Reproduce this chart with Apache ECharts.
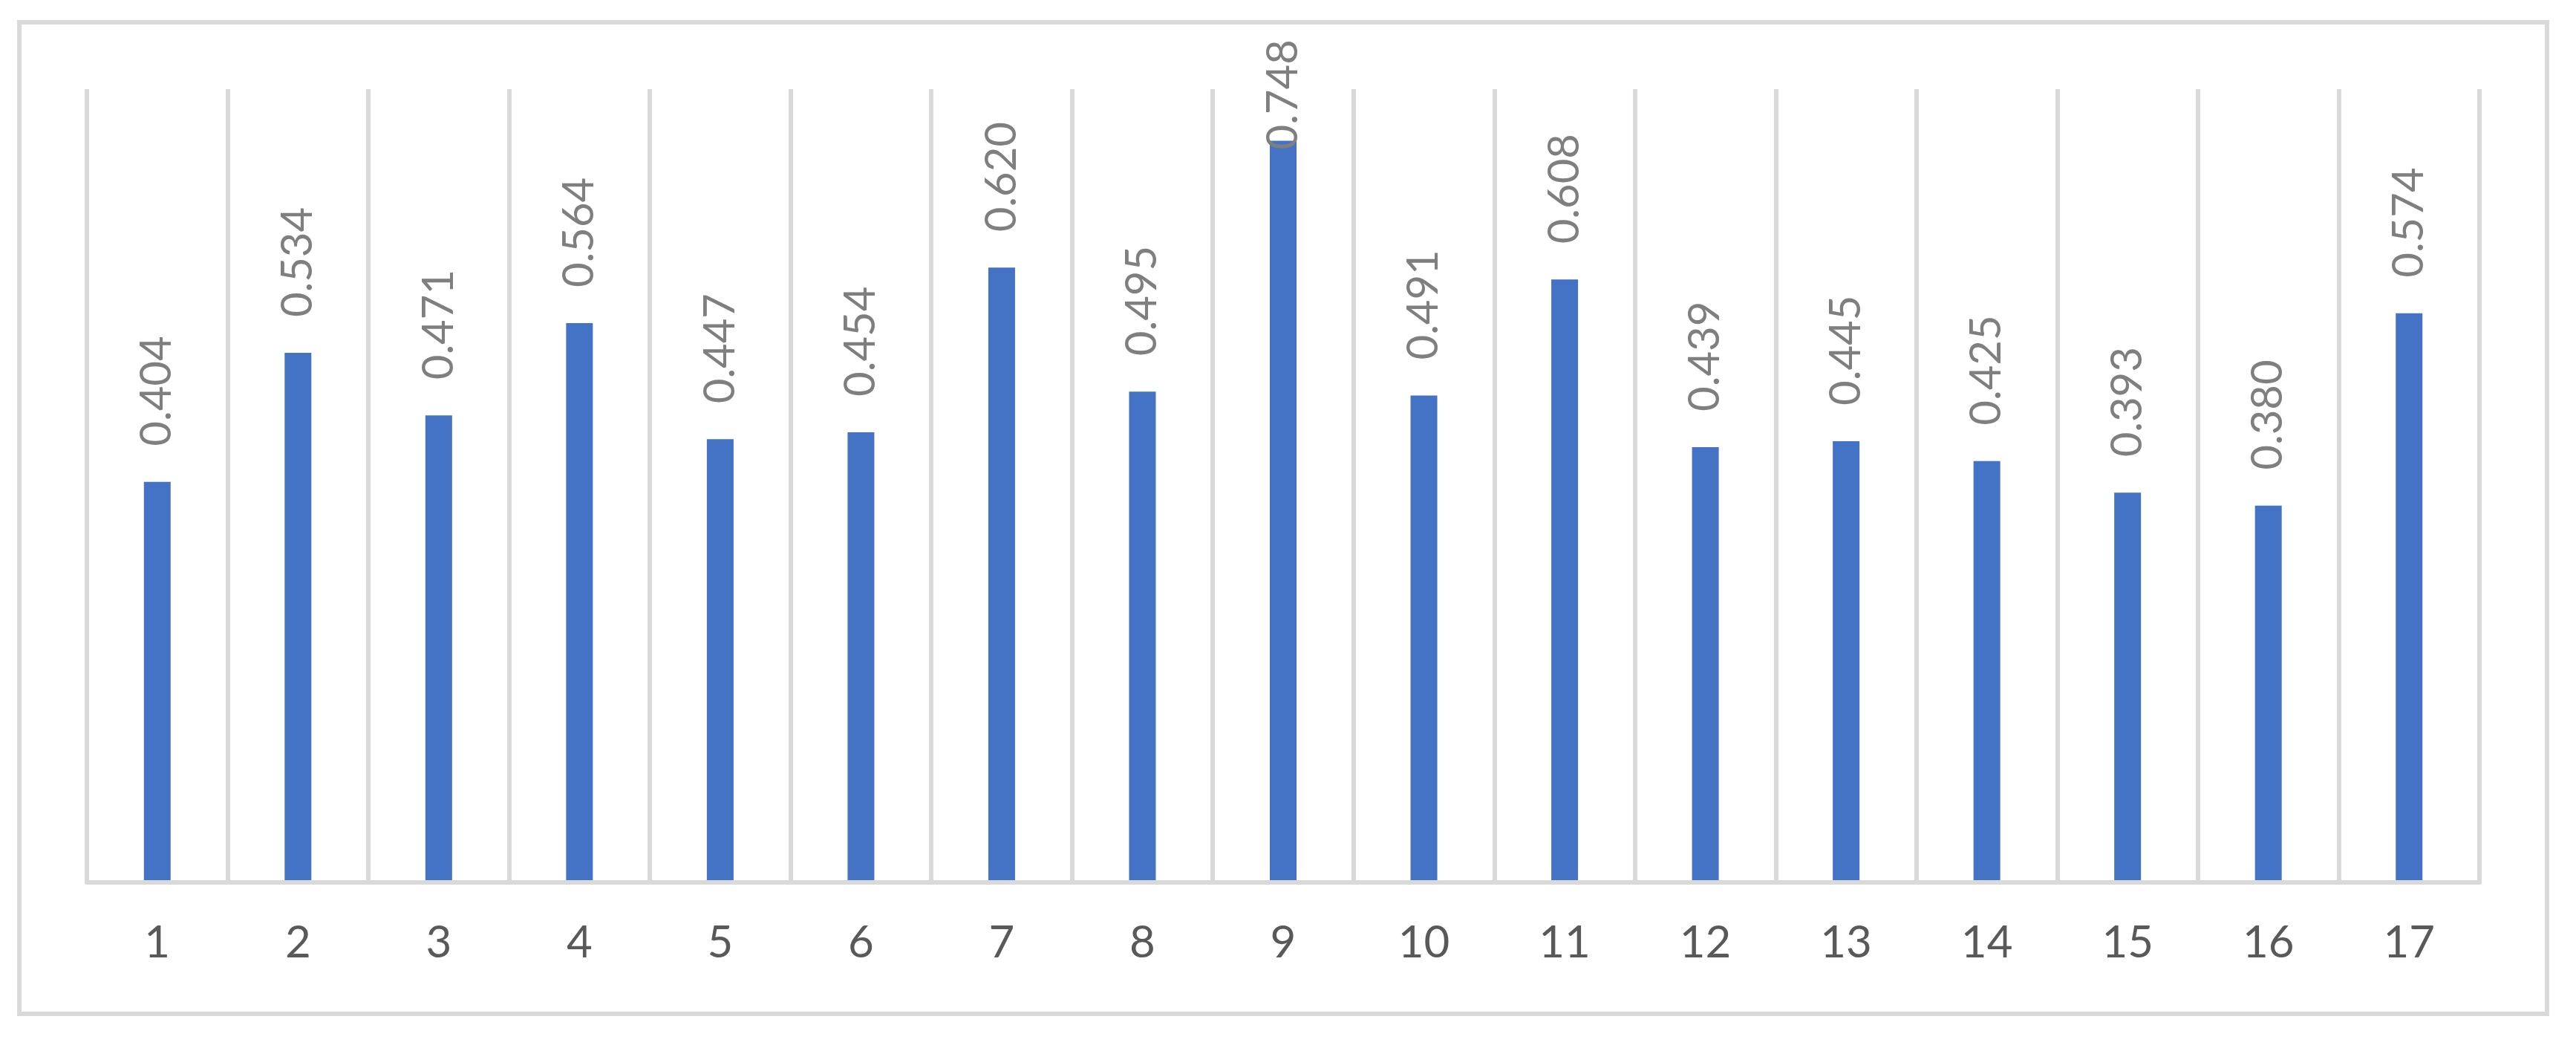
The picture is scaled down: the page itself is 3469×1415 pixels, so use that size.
<!DOCTYPE html>
<html>
<head>
<meta charset="utf-8">
<script src="https://cdn.jsdelivr.net/npm/echarts@6/dist/echarts.min.js"></script>
<style>
  html, body { margin: 0; padding: 0; background: #fff; }
  #chart { width: 3469px; height: 1415px; }
</style>
</head>
<body>
<div id="chart"></div>
<script>
const categories = ['1', '2', '3', '4', '5', '6', '7', '8', '9', '10', '11', '12', '13', '14', '15', '16', '17']
const values = [0.404, 0.534, 0.471, 0.564, 0.447, 0.454, 0.620, 0.495, 0.748, 0.491, 0.608, 0.439, 0.445, 0.425, 0.393, 0.380, 0.574]

// the tallest label is pushed down into its bar so it stays inside the frame
const seriesData = values.map((v, i) => {
  if (v > 0.7) {
    return { value: v, label: { distance: -12 } }
  }
  return v
})

const chart = echarts.init(document.getElementById('chart'))

chart.setOption({
  animation: false,
  backgroundColor: '#ffffff',
  grid: {
    left: 117,
    right: 130,
    top: 120,
    bottom: 227
  },
  graphic: [
    {
      type: 'rect',
      shape: { x: 26, y: 30, width: 3404, height: 1335 },
      style: { fill: 'none', stroke: '#d9d9d9', lineWidth: 6 },
      silent: true
    }
  ],
  xAxis: {
    type: 'category',
    data: categories,
    z: 10,
    axisLine: { show: true, lineStyle: { color: '#d9d9d9', width: 6 } },
    axisTick: { show: false },
    axisLabel: {
      color: '#595959',
      fontFamily: 'Lato',
      fontSize: 60,
      margin: 52
    },
    splitLine: { show: true, lineStyle: { color: '#d9d9d9', width: 6 } }
  },
  yAxis: {
    type: 'value',
    min: 0,
    max: 0.8,
    show: false
  },
  series: [
    {
      type: 'bar',
      data: seriesData,
      barWidth: 36,
      itemStyle: { color: '#4472c4' },
      label: {
        show: true,
        position: 'top',
        rotate: 90,
        align: 'left',
        verticalAlign: 'middle',
        distance: 48,
        color: '#7f7f7f',
        fontFamily: 'Lato',
        fontSize: 58,
        formatter: p => p.value.toFixed(3)
      }
    }
  ]
})
</script>
</body>
</html>
